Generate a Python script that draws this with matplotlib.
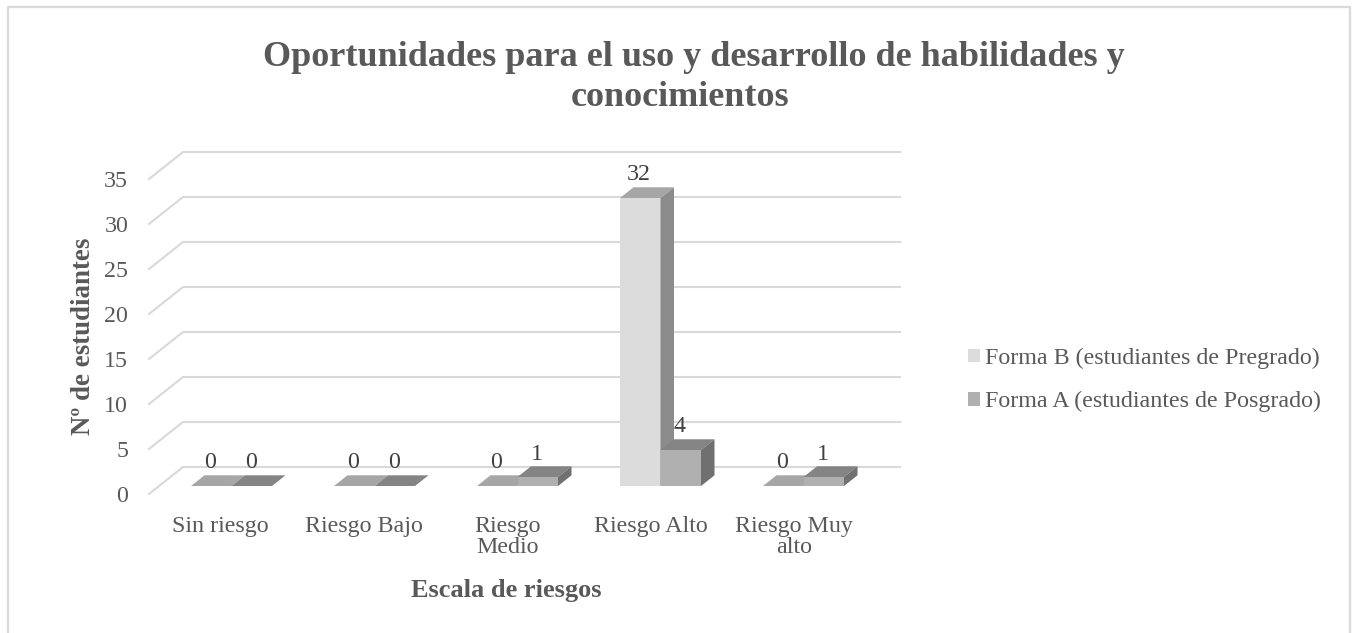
import matplotlib
matplotlib.use("Agg")
from matplotlib import pyplot as plt
from matplotlib.patches import Patch, Polygon
from matplotlib.lines import Line2D

categories = ["Sin riesgo", "Riesgo Bajo", "Riesgo\nMedio", "Riesgo Alto", "Riesgo Muy\nalto"]
forma_b = [0, 0, 0, 32, 0]
forma_a = [0, 0, 1, 4, 1]
y_ticks = [0, 5, 10, 15, 20, 25, 30, 35]
legend_labels = ["Forma B (estudiantes de Pregrado)", "Forma A (estudiantes de Posgrado)"]

W, H = 1353, 633
plt.rcParams["font.family"] = ["Liberation Serif", "DejaVu Serif"]

# front plane of the fake 3d box, in pixels
X0, X1, Y0, Y1 = 149, 900, 494, 130
CAT_W = 143.4
VAL_H = 9.0


def px_w(p):
    return p / CAT_W


def px_h(p):
    return p / VAL_H


fig = plt.figure(figsize=(W / 100, H / 100), dpi=100)
fig.patch.set_facecolor("white")
ax = fig.add_axes([X0 / W, 1 - Y0 / H, (X1 - X0) / W, (Y0 - Y1) / H])
ax.set_xlim(0, (X1 - X0) / CAT_W)
ax.set_ylim(0, (Y0 - Y1) / VAL_H)
ax.patch.set_visible(False)
for s in ax.spines.values():
    s.set_visible(False)

# outer chart frame, bottom edge is cropped in the original
frame_x = [8 / W, 8 / W, 1350 / W, 1350 / W]
frame_y = [0, 1 - 7 / H, 1 - 7 / H, 0]
fig.add_artist(Line2D(frame_x, frame_y, color="#D9D9D9", lw=1.6))

# gridlines on back wall and side wall
depth_x = px_w(34)
depth_y = px_h(27)
x_end = (X1 - X0) / CAT_W
for v in y_ticks:
    ax.plot([0, depth_x, x_end], [v, v + depth_y, v + depth_y], color="#D9D9D9", lw=1.5, zorder=1, clip_on=False)

bar_w = px_w(40.5)
bar_dx = px_w(13.5)
bar_dy = px_h(10.7)
base = px_h(8)
first = px_w(42)
step = 143.0 / CAT_W

series = [
    (forma_b, 0, "#DCDCDC", "#A6A6A6", "#8C8C8C", 3),
    (forma_a, 1, "#B0B0B0", "#848484", "#707070", 4),
]

for vals, k, c_front, c_top, c_side, z in series:
    for i, v in enumerate(vals):
        x = first + i * step + k * bar_w
        top = base + v
        ax.add_patch(Polygon([(x, base), (x + bar_w, base), (x + bar_w, top), (x, top)],
                             fc=c_front, ec="none", zorder=z))
        ax.add_patch(Polygon([(x, top), (x + bar_w, top), (x + bar_w + bar_dx, top + bar_dy), (x + bar_dx, top + bar_dy)],
                             fc=c_top, ec="none", zorder=z))
        ax.add_patch(Polygon([(x + bar_w, base), (x + bar_w + bar_dx, base + bar_dy), (x + bar_w + bar_dx, top + bar_dy), (x + bar_w, top)],
                             fc=c_side, ec="none", zorder=z))
        ax.text(x + bar_w / 2 - px_w(1), top + px_h(23), str(v), ha="center", va="center",
                fontsize=17.3, color="#404040", zorder=6)

# axis ticks and labels
ax.set_xticks([i + 0.5 for i in range(len(categories))])
ax.set_xticklabels(categories, fontsize=17.3, color="#595959", linespacing=1.0)
ax.set_yticks(y_ticks)
ax.set_yticklabels([str(v) for v in y_ticks], fontsize=17.3, color="#595959")
ax.tick_params(axis="x", length=0, pad=15.5)
ax.tick_params(axis="y", length=0, pad=15)

ax.set_xlabel("Escala de riesgos", fontsize=19, fontweight="bold", color="#595959")
ax.xaxis.set_label_coords(506 / W, 1 - 591 / H, transform=fig.transFigure)
ax.xaxis.label.set_va("center")
ax.set_ylabel("Nº de estudiantes", fontsize=19.4, fontweight="bold", color="#595959")
ax.yaxis.set_label_coords(84 / W, 1 - 336 / H, transform=fig.transFigure)
ax.yaxis.label.set_va("center")

# title, second line sits left of centre like in the original
fig.text(694 / W, 1 - 57 / H, "Oportunidades para el uso y desarrollo de habilidades y", ha="center", va="center",
         fontsize=26, fontweight="bold", color="#595959")
fig.text(680 / W, 1 - 97 / H, "conocimientos", ha="center", va="center",
         fontsize=26, fontweight="bold", color="#595959")

handles = [Patch(fc="#DCDCDC", ec="none"), Patch(fc="#B0B0B0", ec="none")]
fig.legend(handles, legend_labels, loc="center left", bbox_to_anchor=(968 / W, 1 - 380 / H), frameon=False,
           fontsize=17.3, labelcolor="#595959", handlelength=0.5, handleheight=0.5, handletextpad=0.2,
           labelspacing=0.92, borderpad=0, borderaxespad=0)

fig.savefig("out.png", dpi=100)
